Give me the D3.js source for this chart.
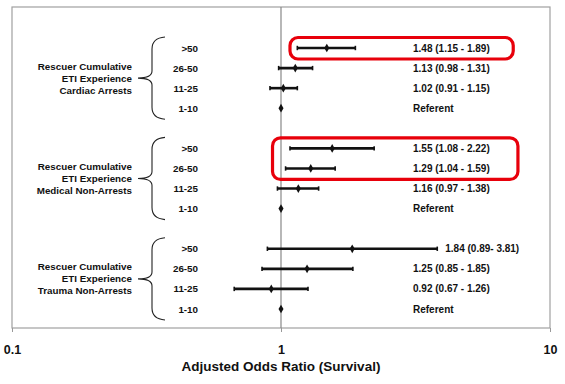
<!DOCTYPE html>
<html lang="en">
  <head>
    <meta charset="utf-8" />
    <title>adjusted odds ratio forest plot</title>
    <script type="text/javascript" src="https://d3js.org/d3.v7.min.js"></script>
    <style>
      body { margin: 0; background: #fff; }
      text { font-family: "Liberation Sans", Arial, sans-serif; fill: #111; }
    </style>
  </head>
  <body>
    <div id="chart"></div>
    <script type="text/javascript">
      /********************************
       * data
       ********************************/

      const groups = ["Cardiac Arrests", "Medical Non-Arrests", "Trauma Non-Arrests"];
      const categories = [">50", "26-50", "11-25", "1-10"];

      // odds ratio and 95% CI per group, per category (null = referent)
      const oddsRatio = [
        [1.48, 1.13, 1.02, 1],
        [1.55, 1.29, 1.16, 1],
        [1.84, 1.25, 0.92, 1],
      ];
      const lower = [
        [1.15, 0.98, 0.91, null],
        [1.08, 1.04, 0.97, null],
        [0.89, 0.85, 0.67, null],
      ];
      const upper = [
        [1.89, 1.31, 1.15, null],
        [2.22, 1.59, 1.38, null],
        [3.81, 1.85, 1.26, null],
      ];
      const valueLabels = [
        ["1.48 (1.15 - 1.89)", "1.13 (0.98 - 1.31)", "1.02 (0.91 - 1.15)", "Referent"],
        ["1.55 (1.08 - 2.22)", "1.29 (1.04 - 1.59)", "1.16 (0.97 - 1.38)", "Referent"],
        ["1.84 (0.89- 3.81)", "1.25 (0.85 - 1.85)", "0.92 (0.67 - 1.26)", "Referent"],
      ];
      const tickValues = [0.1, 1, 10];

      // highlighted rows: group, first row, last row, OR extent of the box
      const highlights = [
        { group: 0, from: 0, to: 0, x0: 1.08, x1: 7.3 },
        { group: 1, from: 0, to: 1, x0: 0.93, x1: 7.6 },
      ];

      // flatten into rows
      const rows = [];
      groups.forEach((g, gi) => {
        categories.forEach((c, ci) => {
          rows.push({
            group: gi,
            idx: gi * 5 + ci,
            cat: c,
            or: oddsRatio[gi][ci],
            lo: lower[gi][ci],
            hi: upper[gi][ci],
            label: valueLabels[gi][ci],
          });
        });
      });

      /***************************
       * svg + scales
       **************************/

      const width = 565;
      const height = 384;
      const plot = { left: 12, right: 550, top: 7, bottom: 328 };

      const svg = d3
        .select("div#chart")
        .append("svg")
        .attr("width", width)
        .attr("height", height);

      const x = d3.scaleLog().domain([0.1, 10]).range([plot.left, plot.right]);
      const y = d3.scaleLinear().domain([0, 13]).range([48, 309]);

      /***************************
       * frame and axis
       **************************/

      svg
        .append("rect")
        .attr("x", plot.left)
        .attr("y", plot.top)
        .attr("width", plot.right - plot.left)
        .attr("height", plot.bottom - plot.top)
        .attr("fill", "none")
        .attr("stroke", "#a0a0a0")
        .attr("stroke-width", 1.2);

      svg
        .append("line")
        .attr("x1", x(1))
        .attr("x2", x(1))
        .attr("y1", plot.top)
        .attr("y2", plot.bottom)
        .attr("stroke", "#888")
        .attr("stroke-width", 1.2);

      const axis = svg
        .append("g")
        .attr("transform", `translate(0,${plot.bottom})`)
        .call(d3.axisBottom(x).tickValues(tickValues).tickSize(4).tickFormat(d3.format("")));
      axis.select(".domain").remove();
      axis.selectAll(".tick line").attr("stroke", "#999");
      axis
        .selectAll(".tick text")
        .attr("dy", null)
        .attr("y", 26)
        .style("font-family", '"Liberation Sans", Arial, sans-serif')
        .style("font-size", "12.5px")
        .style("font-weight", "bold")
        .attr("fill", "#111");

      svg
        .append("text")
        .attr("x", x(1))
        .attr("y", 371)
        .attr("text-anchor", "middle")
        .style("font-size", "13.5px")
        .style("font-weight", "bold")
        .text("Adjusted Odds Ratio (Survival)");

      /***************************
       * group labels and braces
       **************************/

      groups.forEach((g, gi) => {
        const top = y(gi * 5) - 11;
        const bot = y(gi * 5 + 3) + 11;
        const mid = (y(gi * 5 + 1) + y(gi * 5 + 2)) / 2;

        const lines = ["Rescuer Cumulative", "ETI Experience", g];
        svg
          .selectAll(null)
          .data(lines)
          .enter()
          .append("text")
          .attr("x", 132)
          .attr("y", (d, i) => mid + (i - 1) * 12 + 3.5)
          .attr("text-anchor", "end")
          .style("font-size", "9.8px")
          .style("font-weight", "bold")
          .text((d) => d);

        const bx = 152;
        const path = [
          `M${bx + 13},${top}`,
          `Q${bx},${top + 1} ${bx},${top + 12}`,
          `L${bx},${mid - 7}`,
          `Q${bx},${mid} ${bx - 14},${mid}`,
          `Q${bx},${mid} ${bx},${mid + 7}`,
          `L${bx},${bot - 12}`,
          `Q${bx},${bot - 1} ${bx + 13},${bot}`,
        ].join(" ");
        svg
          .append("path")
          .attr("d", path)
          .attr("fill", "none")
          .attr("stroke", "#222")
          .attr("stroke-width", 1.1);
      });

      /***************************
       * rows: category labels, CIs, points, values
       **************************/

      svg
        .selectAll("text.cat")
        .data(rows)
        .enter()
        .append("text")
        .attr("class", "cat")
        .attr("x", 198)
        .attr("y", (d) => y(d.idx) + 3.5)
        .attr("text-anchor", "end")
        .style("font-size", "9.8px")
        .style("font-weight", "bold")
        .text((d) => d.cat);

      const ci = rows.filter((d) => d.lo != null);

      svg
        .selectAll("line.ci")
        .data(ci)
        .enter()
        .append("line")
        .attr("class", "ci")
        .attr("x1", (d) => x(d.lo))
        .attr("x2", (d) => x(d.hi))
        .attr("y1", (d) => y(d.idx))
        .attr("y2", (d) => y(d.idx))
        .attr("stroke", "#111")
        .attr("stroke-width", 2.6);

      ["lo", "hi"].forEach((k) => {
        svg
          .selectAll("line.cap-" + k)
          .data(ci)
          .enter()
          .append("line")
          .attr("class", "cap-" + k)
          .attr("x1", (d) => x(d[k]))
          .attr("x2", (d) => x(d[k]))
          .attr("y1", (d) => y(d.idx) - 2.2)
          .attr("y2", (d) => y(d.idx) + 2.2)
          .attr("stroke", "#111")
          .attr("stroke-width", 1.6);
      });

      svg
        .selectAll("path.pt")
        .data(rows)
        .enter()
        .append("path")
        .attr("class", "pt")
        .attr("d", d3.symbol(d3.symbolDiamond, 22))
        .attr("transform", (d) => `translate(${x(d.or)},${y(d.idx)})`)
        .attr("fill", "#111");

      svg
        .selectAll("text.val")
        .data(rows)
        .enter()
        .append("text")
        .attr("class", "val")
        .attr("x", (d) => Math.max(413, d.hi != null ? x(d.hi) + 8 : 0))
        .attr("y", (d) => y(d.idx) + 3.5)
        .style("font-size", "10px")
        .style("font-weight", "bold")
        .text((d) => d.label);

      /***************************
       * red highlight boxes
       **************************/

      svg
        .selectAll("rect.hl")
        .data(highlights)
        .enter()
        .append("rect")
        .attr("class", "hl")
        .attr("x", (d) => x(d.x0))
        .attr("y", (d) => y(d.group * 5 + d.from) - 10.5)
        .attr("width", (d) => x(d.x1) - x(d.x0))
        .attr("height", (d) => y(d.group * 5 + d.to) - y(d.group * 5 + d.from) + 21.5)
        .attr("rx", 8)
        .attr("fill", "none")
        .attr("stroke", "#e8000b")
        .attr("stroke-width", 3.2);
    </script>
  </body>
</html>
